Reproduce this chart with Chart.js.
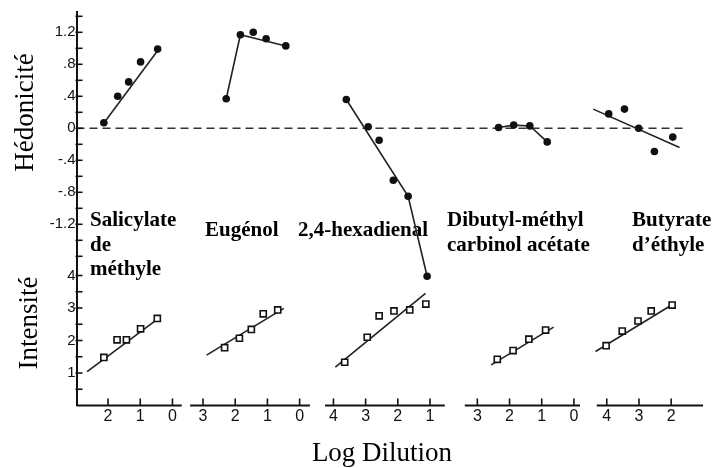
<!DOCTYPE html>
<html>
<head>
<meta charset="utf-8">
<script src="https://cdn.jsdelivr.net/npm/chart.js@4/dist/chart.umd.min.js"></script>
<style>
  html, body { margin: 0; padding: 0; background: #fff; }
  #wrap { width: 713px; height: 468px; }
</style>
</head>
<body>
<div id="wrap"><canvas id="c" width="713" height="468"></canvas></div>
<script>
// ---------------- DATA ----------------
const categories = ['Salicylate de méthyle', 'Eugénol', '2,4-hexadienal', 'Dibutyl-méthyl carbinol acétate', 'Butyrate d’éthyle'];
const categoryLines = [['Salicylate', 'de', 'méthyle'], ['Eugénol'], ['2,4-hexadienal'], ['Dibutyl-méthyl', 'carbinol acétate'], ['Butyrate', 'd’éthyle']];

// Log dilution tick labels of each compound's axis
const dilutionTicks = [[2, 1, 0], [3, 2, 1, 0], [4, 3, 2, 1], [3, 2, 1, 0], [4, 3, 2]];

// Hédonicité (filled circles)
const hedLogDil = [
  [2.13, 1.70, 1.36, 0.99, 0.46],
  [2.28, 1.84, 1.44, 1.04, 0.43],
  [3.60, 2.92, 2.58, 2.14, 1.68, 1.09],
  [2.34, 1.87, 1.37, 0.83],
  [3.94, 3.45, 3.01, 2.52, 1.95]
];
const hedValues = [
  [0.07, 0.40, 0.58, 0.83, 0.99],
  [0.37, 1.17, 1.20, 1.12, 1.03],
  [0.36, 0.02, -0.15, -0.65, -0.85, -1.85],
  [0.01, 0.04, 0.03, -0.17],
  [0.18, 0.24, 0.00, -0.29, -0.11]
];
// Hédonicité fitted lines
const hedFitLogDil = [[2.14, 0.37], [2.28, 1.84, 0.43], [3.60, 1.68, 1.09], [2.34, 1.87, 1.37, 0.83], [4.42, 1.74]];
const hedFitValues = [[0.06, 1.02], [0.37, 1.17, 1.03], [0.36, -0.85, -1.85], [0.01, 0.04, 0.03, -0.17], [0.24, -0.24]];

// Intensité (open squares)
const intLogDil = [
  [2.13, 1.72, 1.43, 0.99, 0.47],
  [2.33, 1.87, 1.50, 1.13, 0.68],
  [3.65, 2.95, 2.58, 2.12, 1.63, 1.13],
  [2.38, 1.89, 1.40, 0.88],
  [4.02, 3.52, 3.03, 2.62, 1.97]
];
const intValues = [
  [1.48, 2.02, 2.02, 2.36, 2.68],
  [1.78, 2.07, 2.34, 2.82, 2.94],
  [1.33, 2.10, 2.76, 2.91, 2.94, 3.12],
  [1.42, 1.69, 2.04, 2.32],
  [1.84, 2.29, 2.60, 2.91, 3.09]
];
// Intensité fitted lines
const intFitLogDil = [[2.65, 0.37], [2.89, 0.49], [3.94, 1.14], [2.57, 0.63], [4.35, 1.87]];
const intFitValues = [[1.04, 2.73], [1.55, 2.99], [1.18, 3.45], [1.25, 2.41], [1.66, 3.16]];

// Axis tick values / labels
const hedTickValues = [1.4, 1.2, 1.0, 0.8, 0.6, 0.4, 0.2, 0, -0.2, -0.4, -0.6, -0.8, -1.0, -1.2, -1.4, -1.6];
const hedTickLabels = { '1.2': '1.2', '0.8': '.8', '0.4': '.4', '0': '0', '-0.4': '-.4', '-0.8': '-.8', '-1.2': '-1.2' };
const intTickValues = [0.5, 1, 1.5, 2, 2.5, 3, 3.5, 4];
const intTickLabels = { '1': '1', '2': '2', '3': '3', '4': '4' };

// ---------------- LAYOUT (positions, not data) ----------------
const groupOffset = [2.98, 6.93, 11.98, 15.45, 20.47];   // shared-axis position of log dilution 0
const axisSegments = [[0, 3.27], [3.53, 7.25], [7.72, 11.44], [12.06, 15.64], [16.16, 19.46]];
const zeroLineEnd = 18.9;
const labelAnchors = [[90, 226], [205, 236], [298, 236], [447, 226], [632, 226]];

const SERIF = '"Liberation Serif", "Times New Roman", serif';
const SANS = '"Liberation Sans", Arial, sans-serif';
const INK = '#111';
const LINE = '#222';

const pos = (g, L) => groupOffset[g] - L;
const pts = (g, ls, vs) => ls.map((L, i) => ({ x: pos(g, L), y: vs[i] }));

const datasets = [];
categories.forEach((name, g) => {
  datasets.push({ type: 'scatter', label: name + ' hédonicité', yAxisID: 'yH', order: 0, clip: false,
    data: pts(g, hedLogDil[g], hedValues[g]),
    pointStyle: 'circle', pointRadius: 3.8, backgroundColor: INK, borderColor: INK, borderWidth: 0 });
  datasets.push({ type: 'line', label: name + ' hédonicité (droite)', yAxisID: 'yH', order: 1, clip: false,
    data: pts(g, hedFitLogDil[g], hedFitValues[g]),
    borderColor: LINE, borderWidth: 1.6, pointRadius: 0, fill: false, tension: 0 });
  datasets.push({ type: 'scatter', label: name + ' intensité', yAxisID: 'yI', order: 0, clip: false,
    data: pts(g, intLogDil[g], intValues[g]),
    pointStyle: 'rect', pointRadius: 4.3, backgroundColor: '#fff', borderColor: INK, borderWidth: 1.6 });
  datasets.push({ type: 'line', label: name + ' intensité (droite)', yAxisID: 'yI', order: 1, clip: false,
    data: pts(g, intFitLogDil[g], intFitValues[g]),
    borderColor: LINE, borderWidth: 1.6, pointRadius: 0, fill: false, tension: 0 });
});

const xTickValues = [];
const xTickLabels = [];
dilutionTicks.forEach((arr, g) => arr.forEach(L => { xTickValues.push(pos(g, L)); xTickLabels.push(String(L)); }));

const keyOf = v => String(Math.round(v * 10) / 10);

const decor = {
  id: 'decor',
  beforeDatasetsDraw(chart) {
    const { ctx } = chart;
    const x = chart.scales.x, yH = chart.scales.yH;
    ctx.save();
    // dashed zero line
    ctx.strokeStyle = '#333';
    ctx.lineWidth = 1.6;
    ctx.setLineDash([8, 5]);
    const y0 = yH.getPixelForValue(0);
    ctx.beginPath();
    ctx.moveTo(x.getPixelForValue(0), y0);
    ctx.lineTo(x.getPixelForValue(zeroLineEnd), y0);
    ctx.stroke();
    ctx.setLineDash([]);
    // compound names
    ctx.fillStyle = '#000';
    ctx.font = 'bold 21px ' + SERIF;
    ctx.textAlign = 'left';
    ctx.textBaseline = 'alphabetic';
    categoryLines.forEach((lines, g) => {
      lines.forEach((t, k) => ctx.fillText(t, labelAnchors[g][0], labelAnchors[g][1] + k * 24.5));
    });
    ctx.restore();
  },
  afterDraw(chart) {
    const { ctx } = chart;
    const x = chart.scales.x, yH = chart.scales.yH, yI = chart.scales.yI;
    const yBase = yI.getPixelForValue(0);
    ctx.save();
    ctx.strokeStyle = INK;
    ctx.lineWidth = 2;
    // x-axis segments
    axisSegments.forEach(([a, b]) => {
      ctx.beginPath();
      ctx.moveTo(x.getPixelForValue(a), yBase);
      ctx.lineTo(x.getPixelForValue(b), yBase);
      ctx.stroke();
    });
    // x tick marks (upward)
    ctx.lineWidth = 1.6;
    xTickValues.forEach(v => {
      const px = x.getPixelForValue(v);
      ctx.beginPath();
      ctx.moveTo(px, yBase);
      ctx.lineTo(px, yBase - 7);
      ctx.stroke();
    });
    // y tick marks (inward)
    const ax = chart.chartArea.left;
    [yH, yI].forEach(s => {
      s.ticks.forEach(t => {
        const py = s.getPixelForValue(t.value);
        ctx.beginPath();
        ctx.moveTo(ax - 1, py);
        ctx.lineTo(ax + 6, py);
        ctx.stroke();
      });
    });
    // axis titles
    ctx.fillStyle = '#000';
    ctx.font = '27px ' + SERIF;
    ctx.textAlign = 'center';
    ctx.textBaseline = 'alphabetic';
    ctx.save(); ctx.translate(33, 112.5); ctx.rotate(-Math.PI / 2); ctx.fillText('Hédonicité', 0, 0); ctx.restore();
    ctx.save(); ctx.translate(36.5, 323); ctx.rotate(-Math.PI / 2); ctx.fillText('Intensité', 0, 0); ctx.restore();
    ctx.fillText('Log Dilution', 382, 461);
    ctx.restore();
  }
};

new Chart(document.getElementById('c'), {
  type: 'scatter',
  data: { datasets },
  plugins: [decor],
  options: {
    responsive: false,
    animation: false,
    events: [],
    devicePixelRatio: 1,
    layout: { padding: { top: 12, right: 9, left: 0, bottom: 0 } },
    plugins: { legend: { display: false }, tooltip: { enabled: false }, title: { display: false } },
    scales: {
      x: {
        type: 'linear', min: 0, max: 19.49,
        afterBuildTicks: s => { s.ticks = xTickValues.map(v => ({ value: v })); },
        ticks: { autoSkip: false, maxRotation: 0, minRotation: 0, padding: 1, color: INK,
          font: { family: SANS, size: 16 }, callback: (v, i) => xTickLabels[i] },
        grid: { display: false, drawTicks: false },
        border: { display: false },
        afterFit: s => { s.height = 62.5; }
      },
      yI: {
        type: 'linear', position: 'left', stack: 'v', stackWeight: 142.8,
        min: 0, max: 4.394,
        afterBuildTicks: s => { s.ticks = intTickValues.map(v => ({ value: v })); },
        ticks: { autoSkip: false, padding: 1, color: INK, font: { family: SANS, size: 15 },
          callback: v => intTickLabels[keyOf(v)] || '' },
        grid: { display: false, drawTicks: false },
        border: { display: true, color: INK, width: 2 },
        afterFit: s => { s.width = 76.5; }
      },
      yH: {
        type: 'linear', position: 'left', stack: 'v', stackWeight: 250.7,
        min: -1.68, max: 1.454,
        afterBuildTicks: s => { s.ticks = hedTickValues.map(v => ({ value: v })); },
        ticks: { autoSkip: false, padding: 1, color: INK, font: { family: SANS, size: 15 },
          callback: v => hedTickLabels[keyOf(v)] || '' },
        grid: { display: false, drawTicks: false },
        border: { display: true, color: INK, width: 2 },
        afterFit: s => { s.width = 76.5; }
      }
    }
  }
});
</script>
</body>
</html>
